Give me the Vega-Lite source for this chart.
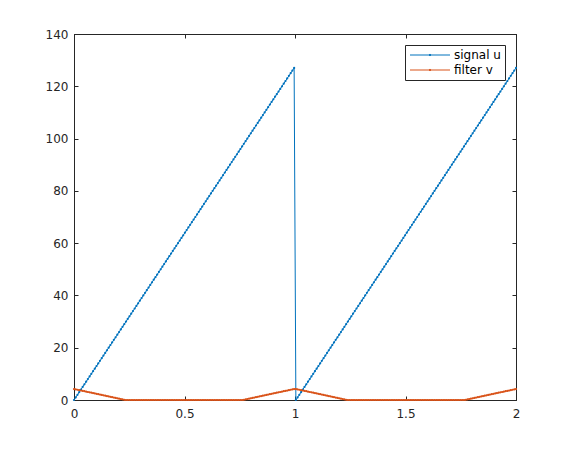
{
"$schema": "https://vega.github.io/schema/vega-lite/v6.json",
"width": 442, "height": 366,
"autosize": {"type": "none"},
"padding": {"left": 74, "top": 34, "right": 54, "bottom": 50},
"background": "white",
"config": {
  "view": {"stroke": "#262626", "strokeWidth": 1},
  "font": "DejaVu Sans",
  "axis": {"domainColor": "#262626", "tickColor": "#262626", "labelColor": "#262626", "labelFontSize": 12, "labelFont": "DejaVu Sans", "grid": false, "tickSize": -4, "domainWidth": 1, "tickWidth": 1, "labelFlush": false, "labelOverlap": false}
},
"data": {"values": [
{"t":0,"u":0,"v":4.2},{"t":0.0078,"u":1,"v":4.06},{"t":0.0157,"u":2,"v":3.92},{"t":0.0235,"u":3,"v":3.77},{"t":0.0314,"u":4,"v":3.63},{"t":0.0392,"u":5,"v":3.49},{"t":0.0471,"u":6,"v":3.35},{"t":0.0549,"u":7,"v":3.2},{"t":0.0627,"u":8,"v":3.06},{"t":0.0706,"u":9,"v":2.92},
{"t":0.0784,"u":10,"v":2.78},{"t":0.0863,"u":11,"v":2.63},{"t":0.0941,"u":12,"v":2.49},{"t":0.102,"u":13,"v":2.35},{"t":0.1098,"u":14,"v":2.21},{"t":0.1176,"u":15,"v":2.06},{"t":0.1255,"u":16,"v":1.92},{"t":0.1333,"u":17,"v":1.78},{"t":0.1412,"u":18,"v":1.64},{"t":0.149,"u":19,"v":1.49},
{"t":0.1569,"u":20,"v":1.35},{"t":0.1647,"u":21,"v":1.21},{"t":0.1725,"u":22,"v":1.07},{"t":0.1804,"u":23,"v":0.92},{"t":0.1882,"u":24,"v":0.78},{"t":0.1961,"u":25,"v":0.64},{"t":0.2039,"u":26,"v":0.5},{"t":0.2118,"u":27,"v":0.36},{"t":0.2196,"u":28,"v":0.21},{"t":0.2275,"u":29,"v":0.07},
{"t":0.2353,"u":30,"v":0},{"t":0.2431,"u":31,"v":0},{"t":0.251,"u":32,"v":0},{"t":0.2588,"u":33,"v":0},{"t":0.2667,"u":34,"v":0},{"t":0.2745,"u":35,"v":0},{"t":0.2824,"u":36,"v":0},{"t":0.2902,"u":37,"v":0},{"t":0.298,"u":38,"v":0},{"t":0.3059,"u":39,"v":0},
{"t":0.3137,"u":40,"v":0},{"t":0.3216,"u":41,"v":0},{"t":0.3294,"u":42,"v":0},{"t":0.3373,"u":43,"v":0},{"t":0.3451,"u":44,"v":0},{"t":0.3529,"u":45,"v":0},{"t":0.3608,"u":46,"v":0},{"t":0.3686,"u":47,"v":0},{"t":0.3765,"u":48,"v":0},{"t":0.3843,"u":49,"v":0},
{"t":0.3922,"u":50,"v":0},{"t":0.4,"u":51,"v":0},{"t":0.4078,"u":52,"v":0},{"t":0.4157,"u":53,"v":0},{"t":0.4235,"u":54,"v":0},{"t":0.4314,"u":55,"v":0},{"t":0.4392,"u":56,"v":0},{"t":0.4471,"u":57,"v":0},{"t":0.4549,"u":58,"v":0},{"t":0.4627,"u":59,"v":0},
{"t":0.4706,"u":60,"v":0},{"t":0.4784,"u":61,"v":0},{"t":0.4863,"u":62,"v":0},{"t":0.4941,"u":63,"v":0},{"t":0.502,"u":64,"v":0},{"t":0.5098,"u":65,"v":0},{"t":0.5176,"u":66,"v":0},{"t":0.5255,"u":67,"v":0},{"t":0.5333,"u":68,"v":0},{"t":0.5412,"u":69,"v":0},
{"t":0.549,"u":70,"v":0},{"t":0.5569,"u":71,"v":0},{"t":0.5647,"u":72,"v":0},{"t":0.5725,"u":73,"v":0},{"t":0.5804,"u":74,"v":0},{"t":0.5882,"u":75,"v":0},{"t":0.5961,"u":76,"v":0},{"t":0.6039,"u":77,"v":0},{"t":0.6118,"u":78,"v":0},{"t":0.6196,"u":79,"v":0},
{"t":0.6275,"u":80,"v":0},{"t":0.6353,"u":81,"v":0},{"t":0.6431,"u":82,"v":0},{"t":0.651,"u":83,"v":0},{"t":0.6588,"u":84,"v":0},{"t":0.6667,"u":85,"v":0},{"t":0.6745,"u":86,"v":0},{"t":0.6824,"u":87,"v":0},{"t":0.6902,"u":88,"v":0},{"t":0.698,"u":89,"v":0},
{"t":0.7059,"u":90,"v":0},{"t":0.7137,"u":91,"v":0},{"t":0.7216,"u":92,"v":0},{"t":0.7294,"u":93,"v":0},{"t":0.7373,"u":94,"v":0},{"t":0.7451,"u":95,"v":0},{"t":0.7529,"u":96,"v":0},{"t":0.7608,"u":97,"v":0},{"t":0.7686,"u":98,"v":0.07},{"t":0.7765,"u":99,"v":0.21},
{"t":0.7843,"u":100,"v":0.36},{"t":0.7922,"u":101,"v":0.5},{"t":0.8,"u":102,"v":0.64},{"t":0.8078,"u":103,"v":0.78},{"t":0.8157,"u":104,"v":0.92},{"t":0.8235,"u":105,"v":1.07},{"t":0.8314,"u":106,"v":1.21},{"t":0.8392,"u":107,"v":1.35},{"t":0.8471,"u":108,"v":1.49},{"t":0.8549,"u":109,"v":1.64},
{"t":0.8627,"u":110,"v":1.78},{"t":0.8706,"u":111,"v":1.92},{"t":0.8784,"u":112,"v":2.06},{"t":0.8863,"u":113,"v":2.21},{"t":0.8941,"u":114,"v":2.35},{"t":0.902,"u":115,"v":2.49},{"t":0.9098,"u":116,"v":2.63},{"t":0.9176,"u":117,"v":2.78},{"t":0.9255,"u":118,"v":2.92},{"t":0.9333,"u":119,"v":3.06},
{"t":0.9412,"u":120,"v":3.2},{"t":0.949,"u":121,"v":3.35},{"t":0.9569,"u":122,"v":3.49},{"t":0.9647,"u":123,"v":3.63},{"t":0.9725,"u":124,"v":3.77},{"t":0.9804,"u":125,"v":3.92},{"t":0.9882,"u":126,"v":4.06},{"t":0.9961,"u":127,"v":4.2},
{"t":1.0039,"u":0,"v":4.2},{"t":1.0118,"u":1,"v":4.06},{"t":1.0196,"u":2,"v":3.92},{"t":1.0275,"u":3,"v":3.77},{"t":1.0353,"u":4,"v":3.63},{"t":1.0431,"u":5,"v":3.49},{"t":1.051,"u":6,"v":3.35},{"t":1.0588,"u":7,"v":3.2},{"t":1.0667,"u":8,"v":3.06},{"t":1.0745,"u":9,"v":2.92},
{"t":1.0824,"u":10,"v":2.78},{"t":1.0902,"u":11,"v":2.63},{"t":1.098,"u":12,"v":2.49},{"t":1.1059,"u":13,"v":2.35},{"t":1.1137,"u":14,"v":2.21},{"t":1.1216,"u":15,"v":2.06},{"t":1.1294,"u":16,"v":1.92},{"t":1.1373,"u":17,"v":1.78},{"t":1.1451,"u":18,"v":1.64},{"t":1.1529,"u":19,"v":1.49},
{"t":1.1608,"u":20,"v":1.35},{"t":1.1686,"u":21,"v":1.21},{"t":1.1765,"u":22,"v":1.07},{"t":1.1843,"u":23,"v":0.92},{"t":1.1922,"u":24,"v":0.78},{"t":1.2,"u":25,"v":0.64},{"t":1.2078,"u":26,"v":0.5},{"t":1.2157,"u":27,"v":0.36},{"t":1.2235,"u":28,"v":0.21},{"t":1.2314,"u":29,"v":0.07},
{"t":1.2392,"u":30,"v":0},{"t":1.2471,"u":31,"v":0},{"t":1.2549,"u":32,"v":0},{"t":1.2627,"u":33,"v":0},{"t":1.2706,"u":34,"v":0},{"t":1.2784,"u":35,"v":0},{"t":1.2863,"u":36,"v":0},{"t":1.2941,"u":37,"v":0},{"t":1.302,"u":38,"v":0},{"t":1.3098,"u":39,"v":0},
{"t":1.3176,"u":40,"v":0},{"t":1.3255,"u":41,"v":0},{"t":1.3333,"u":42,"v":0},{"t":1.3412,"u":43,"v":0},{"t":1.349,"u":44,"v":0},{"t":1.3569,"u":45,"v":0},{"t":1.3647,"u":46,"v":0},{"t":1.3725,"u":47,"v":0},{"t":1.3804,"u":48,"v":0},{"t":1.3882,"u":49,"v":0},
{"t":1.3961,"u":50,"v":0},{"t":1.4039,"u":51,"v":0},{"t":1.4118,"u":52,"v":0},{"t":1.4196,"u":53,"v":0},{"t":1.4275,"u":54,"v":0},{"t":1.4353,"u":55,"v":0},{"t":1.4431,"u":56,"v":0},{"t":1.451,"u":57,"v":0},{"t":1.4588,"u":58,"v":0},{"t":1.4667,"u":59,"v":0},
{"t":1.4745,"u":60,"v":0},{"t":1.4824,"u":61,"v":0},{"t":1.4902,"u":62,"v":0},{"t":1.498,"u":63,"v":0},{"t":1.5059,"u":64,"v":0},{"t":1.5137,"u":65,"v":0},{"t":1.5216,"u":66,"v":0},{"t":1.5294,"u":67,"v":0},{"t":1.5373,"u":68,"v":0},{"t":1.5451,"u":69,"v":0},
{"t":1.5529,"u":70,"v":0},{"t":1.5608,"u":71,"v":0},{"t":1.5686,"u":72,"v":0},{"t":1.5765,"u":73,"v":0},{"t":1.5843,"u":74,"v":0},{"t":1.5922,"u":75,"v":0},{"t":1.6,"u":76,"v":0},{"t":1.6078,"u":77,"v":0},{"t":1.6157,"u":78,"v":0},{"t":1.6235,"u":79,"v":0},
{"t":1.6314,"u":80,"v":0},{"t":1.6392,"u":81,"v":0},{"t":1.6471,"u":82,"v":0},{"t":1.6549,"u":83,"v":0},{"t":1.6627,"u":84,"v":0},{"t":1.6706,"u":85,"v":0},{"t":1.6784,"u":86,"v":0},{"t":1.6863,"u":87,"v":0},{"t":1.6941,"u":88,"v":0},{"t":1.702,"u":89,"v":0},
{"t":1.7098,"u":90,"v":0},{"t":1.7176,"u":91,"v":0},{"t":1.7255,"u":92,"v":0},{"t":1.7333,"u":93,"v":0},{"t":1.7412,"u":94,"v":0},{"t":1.749,"u":95,"v":0},{"t":1.7569,"u":96,"v":0},{"t":1.7647,"u":97,"v":0},{"t":1.7725,"u":98,"v":0.07},{"t":1.7804,"u":99,"v":0.21},
{"t":1.7882,"u":100,"v":0.36},{"t":1.7961,"u":101,"v":0.5},{"t":1.8039,"u":102,"v":0.64},{"t":1.8118,"u":103,"v":0.78},{"t":1.8196,"u":104,"v":0.92},{"t":1.8275,"u":105,"v":1.07},{"t":1.8353,"u":106,"v":1.21},{"t":1.8431,"u":107,"v":1.35},{"t":1.851,"u":108,"v":1.49},{"t":1.8588,"u":109,"v":1.64},
{"t":1.8667,"u":110,"v":1.78},{"t":1.8745,"u":111,"v":1.92},{"t":1.8824,"u":112,"v":2.06},{"t":1.8902,"u":113,"v":2.21},{"t":1.898,"u":114,"v":2.35},{"t":1.9059,"u":115,"v":2.49},{"t":1.9137,"u":116,"v":2.63},{"t":1.9216,"u":117,"v":2.78},{"t":1.9294,"u":118,"v":2.92},{"t":1.9373,"u":119,"v":3.06},
{"t":1.9451,"u":120,"v":3.2},{"t":1.9529,"u":121,"v":3.35},{"t":1.9608,"u":122,"v":3.49},{"t":1.9686,"u":123,"v":3.63},{"t":1.9765,"u":124,"v":3.77},{"t":1.9843,"u":125,"v":3.92},{"t":1.9922,"u":126,"v":4.06},{"t":2,"u":127,"v":4.2}
]},
"layer": [
  {
    "mark": {"type": "line", "strokeWidth": 1, "point": {"filled": true, "size": 5}},
    "encoding": {
      "x": {"field": "t", "type": "quantitative", "scale": {"domain": [0, 2], "nice": false, "zero": false},
            "axis": {"orient": "bottom", "title": null, "values": [0, 0.5, 1, 1.5, 2], "format": "~f", "labelPadding": 12}},
      "y": {"field": "u", "type": "quantitative", "scale": {"domain": [0, 140], "nice": false},
            "axis": {"orient": "left", "title": null, "values": [0, 20, 40, 60, 80, 100, 120, 140], "format": "~f", "labelPadding": 10}},
      "color": {"datum": "signal u", "type": "nominal",
        "scale": {"domain": ["signal u", "filter v"], "range": ["#0072BD", "#D95319"]},
        "legend": {"orient": "none", "legendX": 331, "legendY": 11, "title": null, "symbolType": "M-1,0H7M2.85,0a0.15,0.15 0 1,0 0.3,0a0.15,0.15 0 1,0 -0.3,0", "symbolSize": 100, "symbolStrokeWidth": 1, "labelFontSize": 12, "labelFont": "DejaVu Sans", "labelColor": "#000000", "strokeColor": "#262626", "fillColor": "white", "padding": 4, "rowPadding": 3, "labelOffset": 33}}
    }
  },
  {
    "mark": {"type": "line", "strokeWidth": 1, "point": {"filled": true, "size": 5}},
    "encoding": {
      "x": {"field": "t", "type": "quantitative",
            "axis": {"orient": "top", "title": null, "values": [0, 0.5, 1, 1.5, 2], "labels": false}},
      "y": {"field": "v", "type": "quantitative",
            "axis": {"orient": "right", "title": null, "values": [0, 20, 40, 60, 80, 100, 120, 140], "labels": false}},
      "color": {"datum": "filter v", "type": "nominal"}
    }
  }
]
}
